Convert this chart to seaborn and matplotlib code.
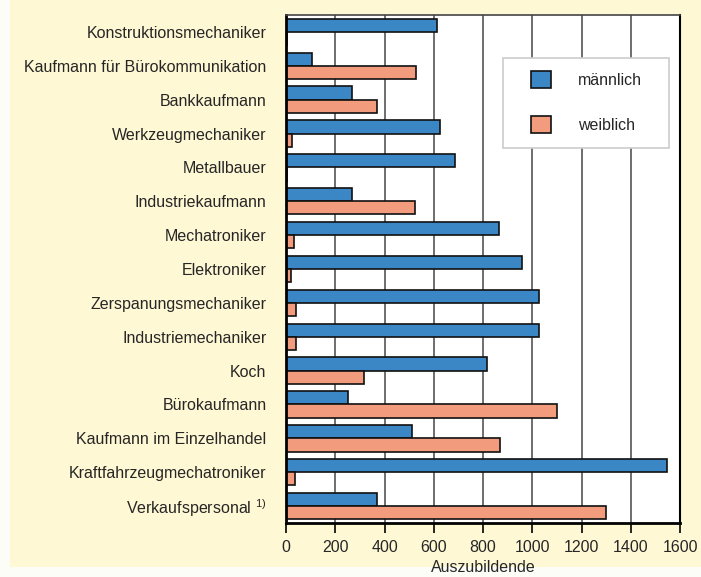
import pandas as pd
import matplotlib.pyplot as plt
import matplotlib.patches as mpatches
import seaborn as sns

# Data (top to bottom)
berufe = [
    "Konstruktionsmechaniker",
    "Kaufmann für Bürokommunikation",
    "Bankkaufmann",
    "Werkzeugmechaniker",
    "Metallbauer",
    "Industriekaufmann",
    "Mechatroniker",
    "Elektroniker",
    "Zerspanungsmechaniker",
    "Industriemechaniker",
    "Koch",
    "Bürokaufmann",
    "Kaufmann im Einzelhandel",
    "Kraftfahrzeugmechatroniker",
    "Verkaufspersonal $^{1)}$",
]
maennlich = [615, 107, 269, 624, 686, 267, 864, 957, 1027, 1026, 818, 250, 512, 1549, 368]
weiblich = [5, 528, 368, 23, 5, 525, 31, 19, 39, 41, 318, 1102, 869, 37, 1300]
geschlecht = ["männlich", "weiblich"]
farben = ["#3B87C6", "#F39C7D"]
x_ticks = [0, 200, 400, 600, 800, 1000, 1200, 1400, 1600]


def main():
    sns.set_style("white")
    plt.rcParams["font.family"] = ["Liberation Sans", "DejaVu Sans"]
    plt.rcParams["mathtext.fontset"] = "custom"
    plt.rcParams["mathtext.rm"] = "Liberation Sans"
    plt.rcParams["mathtext.it"] = "Liberation Sans"

    df = pd.DataFrame({
        "Beruf": berufe * 2,
        "Anzahl": maennlich + weiblich,
        "Geschlecht": [geschlecht[0]] * len(berufe) + [geschlecht[1]] * len(berufe),
    })

    fig = plt.figure(figsize=(7.01, 5.77), dpi=100, facecolor="#FDFDF8")
    # yellow panel behind the chart
    fig.patches.append(mpatches.Rectangle((10 / 701, 10 / 577), 691 / 701, 567 / 577,
                                          transform=fig.transFigure, facecolor="#FFF8D4",
                                          edgecolor="none", zorder=-10))
    ax = fig.add_axes([286 / 701, 1 - 523 / 577, 394 / 701, 508 / 577])
    ax.set_zorder(1)
    ax.set_facecolor("white")

    sns.barplot(data=df, y="Beruf", x="Anzahl", hue="Geschlecht", orient="h",
                order=berufe, hue_order=geschlecht, palette=farben,
                edgecolor="#111111", linewidth=1.2, width=0.78, saturation=1,
                legend=False, ax=ax)

    ax.set_xlim(0, 1600)
    ax.set_xticks(x_ticks)
    ax.set_xticklabels([str(t) for t in x_ticks])
    ax.grid(axis="x", color="#555555", linewidth=1.2)
    ax.set_axisbelow(True)
    ax.tick_params(axis="x", length=7, width=1.2, color="black", labelsize=11.5, pad=5,
                   bottom=True)
    ax.tick_params(axis="y", length=0, labelsize=11.5, pad=14)
    ax.set_xlabel("Auszubildende", fontsize=11.5, labelpad=4)
    ax.set_ylabel("")

    for side in ["left", "bottom"]:
        ax.spines[side].set_color("black")
        ax.spines[side].set_linewidth(2)
    ax.spines["right"].set_color("black")
    ax.spines["right"].set_linewidth(1.5)
    ax.spines["top"].set_color("#444444")
    ax.spines["top"].set_linewidth(1.2)

    # legend box
    ax.add_patch(mpatches.Rectangle((0.551, 0.738), 0.421, 0.178, transform=ax.transAxes,
                                    facecolor="white", edgecolor="#CCCCCC",
                                    linewidth=1.2, zorder=4))
    handles = [mpatches.Patch(facecolor=c, edgecolor="#111111", linewidth=1.2) for c in farben]
    leg = ax.legend(handles, geschlecht, loc="upper left", bbox_to_anchor=(0.622, 0.890),
                    frameon=False, borderpad=0, borderaxespad=0, fontsize=11.5,
                    handlelength=1.25, handleheight=1.25, handletextpad=1.7,
                    labelspacing=1.75)
    leg.set_zorder(5)

    fig.savefig("out.png", dpi=100, facecolor=fig.get_facecolor())


if __name__ == "__main__":
    main()
